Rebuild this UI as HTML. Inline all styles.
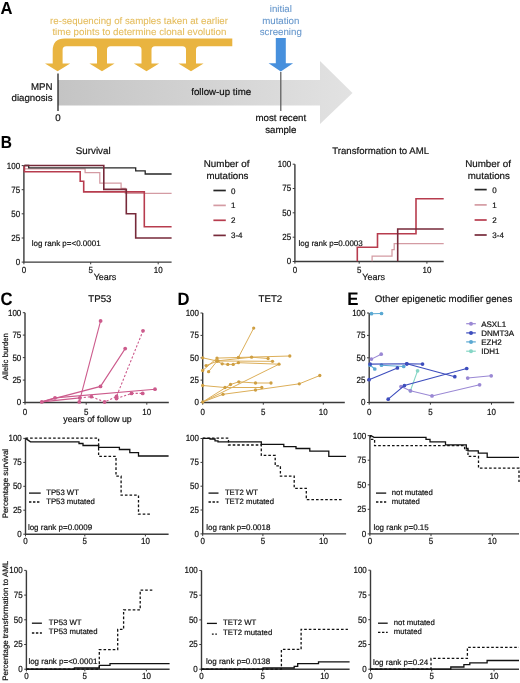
<!DOCTYPE html>
<html><head><meta charset="utf-8">
<style>
html,body{margin:0;padding:0;background:#fff;width:520px;height:683px;overflow:hidden}
svg{display:block;filter:blur(0.3px)}
text{font-family:"Liberation Sans",sans-serif;fill:#111;stroke:#111;stroke-width:0.2px;text-rendering:geometricPrecision}
</style></head><body>
<svg width="520" height="683" viewBox="0 0 520 683">
<text x="0.5" y="13.9" font-size="17.43" style="fill:#000;stroke:#000;stroke-width:0.08px" font-weight="bold" textLength="11.99" lengthAdjust="spacingAndGlyphs">A</text>
<text x="139" y="24.4" font-size="9.70" text-anchor="middle" style="fill:#e4bc5c;stroke:#e4bc5c;stroke-width:0.08px" textLength="177.93" lengthAdjust="spacingAndGlyphs">re-sequencing of samples taken at earlier</text>
<text x="139.4" y="35" font-size="9.75" text-anchor="middle" style="fill:#e4bc5c;stroke:#e4bc5c;stroke-width:0.08px" textLength="173.97" lengthAdjust="spacingAndGlyphs">time points to determine clonal evolution</text>
<path fill="#e9b440" d="M232.3 38.5 L64.7 38.5 Q52.7 38.5 52.7 50.5 L52.7 63.5 L45 63.5 L57.6 71.2 L70.2 63.5 L62.6 63.5 L62.6 50 Q62.6 46.3 66.3 46.3
L93.5 46.3 Q97 46.3 97 49.8 L97 63.5 L89.4 63.5 L102 71.2 L114.6 63.5 L107 63.5 L107 49.8 Q107 46.3 110.5 46.3
L138 46.3 Q141.5 46.3 141.5 49.8 L141.5 63.5 L133.9 63.5 L146.5 71.2 L159.1 63.5 L151.5 63.5 L151.5 49.8 Q151.5 46.3 155 46.3
L182.5 46.3 Q186 46.3 186 49.8 L186 63.5 L178.4 63.5 L191 71.2 L203.6 63.5 L196 63.5 L196 49.8 Q196 46.3 199.5 46.3
L232.3 46.3 Z"/>
<defs><linearGradient id="gg" x1="58" y1="0" x2="352" y2="0" gradientUnits="userSpaceOnUse">
<stop offset="0" stop-color="#c4c4c4"/><stop offset="1" stop-color="#e2e2e2"/></linearGradient></defs>
<path fill="url(#gg)" d="M58 80 L320 80 L320 61 L352.5 93 L320 124 L320 105.5 L58 105.5 Z"/>
<line x1="58" y1="73.5" x2="58" y2="111" stroke="#111" stroke-width="1.2"/>
<line x1="280.8" y1="72" x2="280.8" y2="111" stroke="#555" stroke-width="1.2"/>
<path fill="#4790dd" d="M275.8 38 L285.8 38 L285.8 63.2 L293.1 63.2 L280.8 71.6 L268.6 63.2 L275.8 63.2 Z"/>
<text x="280.8" y="11.5" font-size="9.70" text-anchor="middle" style="fill:#6596cb;stroke:#6596cb;stroke-width:0.08px" textLength="22.11" lengthAdjust="spacingAndGlyphs">initial</text>
<text x="280.8" y="23.6" font-size="9.70" text-anchor="middle" style="fill:#6596cb;stroke:#6596cb;stroke-width:0.08px" textLength="37.20" lengthAdjust="spacingAndGlyphs">mutation</text>
<text x="280.8" y="34.6" font-size="9.70" text-anchor="middle" style="fill:#6596cb;stroke:#6596cb;stroke-width:0.08px" textLength="42.06" lengthAdjust="spacingAndGlyphs">screening</text>
<text x="52.5" y="89.5" font-size="9.70" text-anchor="end" textLength="21.56" lengthAdjust="spacingAndGlyphs">MPN</text>
<text x="52.5" y="100.7" font-size="9.70" text-anchor="end" textLength="40.98" lengthAdjust="spacingAndGlyphs">diagnosis</text>
<text x="58" y="120.8" font-size="9.70" text-anchor="middle" textLength="5.40" lengthAdjust="spacingAndGlyphs">0</text>
<text x="221.2" y="95.4" font-size="9.70" text-anchor="middle" textLength="59.84" lengthAdjust="spacingAndGlyphs">follow-up time</text>
<text x="280.8" y="121.3" font-size="9.70" text-anchor="middle" textLength="50.67" lengthAdjust="spacingAndGlyphs">most recent</text>
<text x="280.8" y="132.6" font-size="9.70" text-anchor="middle" textLength="31.27" lengthAdjust="spacingAndGlyphs">sample</text>
<text x="0.8" y="147.5" font-size="17.36" style="fill:#000;stroke:#000;stroke-width:0.08px" font-weight="bold" textLength="11.19" lengthAdjust="spacingAndGlyphs">B</text>
<text x="93.2" y="154.3" font-size="9.80" text-anchor="middle" textLength="34.86" lengthAdjust="spacingAndGlyphs">Survival</text>
<path d="M23.9 165.6 V262.1 H171.6" fill="none" stroke="#3a3a3a" stroke-width="1.4"/>
<text x="20.2" y="265.0" font-size="8.96" text-anchor="end" textLength="4.45" lengthAdjust="spacingAndGlyphs">0</text>
<text x="20.2" y="240.9" font-size="8.96" text-anchor="end" textLength="8.90" lengthAdjust="spacingAndGlyphs">25</text>
<text x="20.2" y="216.8" font-size="8.96" text-anchor="end" textLength="8.90" lengthAdjust="spacingAndGlyphs">50</text>
<text x="20.2" y="192.6" font-size="8.96" text-anchor="end" textLength="8.90" lengthAdjust="spacingAndGlyphs">75</text>
<text x="20.2" y="168.5" font-size="8.96" text-anchor="end" textLength="13.35" lengthAdjust="spacingAndGlyphs">100</text>
<text x="23.9" y="272.6" font-size="8.80" text-anchor="middle" textLength="4.45" lengthAdjust="spacingAndGlyphs">0</text>
<text x="90.7" y="272.6" font-size="8.80" text-anchor="middle" textLength="4.45" lengthAdjust="spacingAndGlyphs">5</text>
<text x="158.2" y="272.6" font-size="8.80" text-anchor="middle" textLength="8.90" lengthAdjust="spacingAndGlyphs">10</text>
<path d="M21.7 262.1 H23.9 M21.7 238.0 H23.9 M21.7 213.8 H23.9 M21.7 189.7 H23.9 M21.7 165.6 H23.9 M23.9 262.1 V264.3 M90.7 262.1 V264.3 M158.2 262.1 V264.3" fill="none" stroke="#3a3a3a" stroke-width="1"/>
<text x="105.0" y="280.4" font-size="9.00" text-anchor="middle" textLength="22.69" lengthAdjust="spacingAndGlyphs">Years</text>
<text x="31.7" y="246.3" font-size="8.00" textLength="68.95" lengthAdjust="spacingAndGlyphs">log rank p=&lt;0.0001</text>
<g fill="none" stroke-width="1.6">
<path stroke="#d49ba3" stroke-width="1.25" d="M24.4 165.5 V168.9 H85.1 V172.7 H99.8 V183 H121.1 V188.3 H125.3 V193.4 H171.6"/>
<path stroke="#b73c4e" d="M24.4 165.5 V171.8 H80.2 V181.3 H83.7 V191.9 H144.3 V226.8 H171.6"/>
<path stroke="#262626" stroke-width="1.3" d="M24.4 165.5 H28.7 V167.8 H135.7 V170.9 H145.2 V174 H171.6"/>
<path stroke="#772a3a" d="M24.4 165.5 H103.8 V189.4 H126.3 V213.8 H135.7 V238 H171.6"/>
</g>
<text x="226.6" y="167.4" font-size="9.80" text-anchor="middle" textLength="45.75" lengthAdjust="spacingAndGlyphs">Number of</text>
<text x="227.4" y="178.7" font-size="9.70" text-anchor="middle" textLength="42.05" lengthAdjust="spacingAndGlyphs">mutations</text>
<line x1="213.4" y1="190.5" x2="225.8" y2="190.5" stroke="#262626" stroke-width="1.7"/>
<text x="231" y="193.5" font-size="8.00" textLength="4.45" lengthAdjust="spacingAndGlyphs">0</text>
<line x1="213.4" y1="205.4" x2="225.8" y2="205.4" stroke="#d49ba3" stroke-width="1.7"/>
<text x="231" y="208.4" font-size="8.00" textLength="4.45" lengthAdjust="spacingAndGlyphs">1</text>
<line x1="213.4" y1="220.3" x2="225.8" y2="220.3" stroke="#b73c4e" stroke-width="1.7"/>
<text x="231" y="223.3" font-size="8.00" textLength="4.45" lengthAdjust="spacingAndGlyphs">2</text>
<line x1="213.4" y1="235.4" x2="225.8" y2="235.4" stroke="#772a3a" stroke-width="1.7"/>
<text x="231" y="238.4" font-size="8.00" textLength="11.56" lengthAdjust="spacingAndGlyphs">3-4</text>
<text x="488" y="167.4" font-size="9.80" text-anchor="middle" textLength="45.75" lengthAdjust="spacingAndGlyphs">Number of</text>
<text x="488.8" y="178.7" font-size="9.70" text-anchor="middle" textLength="42.05" lengthAdjust="spacingAndGlyphs">mutations</text>
<line x1="474.6" y1="189.6" x2="486.7" y2="189.6" stroke="#262626" stroke-width="1.7"/>
<text x="492.3" y="192.6" font-size="8.00" textLength="4.45" lengthAdjust="spacingAndGlyphs">0</text>
<line x1="474.6" y1="204.9" x2="486.7" y2="204.9" stroke="#d49ba3" stroke-width="1.7"/>
<text x="492.3" y="207.9" font-size="8.00" textLength="4.45" lengthAdjust="spacingAndGlyphs">1</text>
<line x1="474.6" y1="220" x2="486.7" y2="220" stroke="#b73c4e" stroke-width="1.7"/>
<text x="492.3" y="223.0" font-size="8.00" textLength="4.45" lengthAdjust="spacingAndGlyphs">2</text>
<line x1="474.6" y1="235" x2="486.7" y2="235" stroke="#772a3a" stroke-width="1.7"/>
<text x="492.3" y="238.0" font-size="8.00" textLength="11.56" lengthAdjust="spacingAndGlyphs">3-4</text>
<text x="380.7" y="154.3" font-size="9.60" text-anchor="middle" textLength="96.75" lengthAdjust="spacingAndGlyphs">Transformation to AML</text>
<path d="M294.9 164.2 V261.5 H443.7" fill="none" stroke="#3a3a3a" stroke-width="1.4"/>
<text x="291.2" y="264.4" font-size="8.96" text-anchor="end" textLength="4.45" lengthAdjust="spacingAndGlyphs">0</text>
<text x="291.2" y="240.1" font-size="8.96" text-anchor="end" textLength="8.90" lengthAdjust="spacingAndGlyphs">25</text>
<text x="291.2" y="215.8" font-size="8.96" text-anchor="end" textLength="8.90" lengthAdjust="spacingAndGlyphs">50</text>
<text x="291.2" y="191.4" font-size="8.96" text-anchor="end" textLength="8.90" lengthAdjust="spacingAndGlyphs">75</text>
<text x="291.2" y="167.1" font-size="8.96" text-anchor="end" textLength="13.35" lengthAdjust="spacingAndGlyphs">100</text>
<text x="294.9" y="272.6" font-size="8.80" text-anchor="middle" textLength="4.45" lengthAdjust="spacingAndGlyphs">0</text>
<text x="359.2" y="272.6" font-size="8.80" text-anchor="middle" textLength="4.45" lengthAdjust="spacingAndGlyphs">5</text>
<text x="426.9" y="272.6" font-size="8.80" text-anchor="middle" textLength="8.90" lengthAdjust="spacingAndGlyphs">10</text>
<path d="M292.7 261.5 H294.9 M292.7 237.2 H294.9 M292.7 212.8 H294.9 M292.7 188.5 H294.9 M292.7 164.2 H294.9 M294.9 261.5 V263.7 M359.2 261.5 V263.7 M426.9 261.5 V263.7" fill="none" stroke="#3a3a3a" stroke-width="1"/>
<text x="373.6" y="280.2" font-size="9.00" text-anchor="middle" textLength="22.69" lengthAdjust="spacingAndGlyphs">Years</text>
<text x="298.5" y="245.9" font-size="8.00" textLength="64.27" lengthAdjust="spacingAndGlyphs">log rank p=0.0003</text>
<g fill="none" stroke-width="1.6">
<path stroke="#d49ba3" stroke-width="1.25" d="M372.1 261.3 V256 H392 V249.6 H394.2 V243.5 H443.7"/>
<path stroke="#b73c4e" d="M357.3 261.3 V247.3 H377.5 V233.8 H416 V198.7 H443.7"/>
<path stroke="#772a3a" d="M397.7 261.3 V229 H443.7"/>
</g>
<text x="0.4" y="305.2" font-size="17.93" style="fill:#000;stroke:#000;stroke-width:0.08px" font-weight="bold" textLength="11.99" lengthAdjust="spacingAndGlyphs">C</text>
<text x="177.4" y="305.0" font-size="17.93" style="fill:#000;stroke:#000;stroke-width:0.08px" font-weight="bold" textLength="11.99" lengthAdjust="spacingAndGlyphs">D</text>
<text x="347.2" y="304.9" font-size="18.14" style="fill:#000;stroke:#000;stroke-width:0.08px" font-weight="bold" textLength="11.21" lengthAdjust="spacingAndGlyphs">E</text>
<text x="99.9" y="302.3" font-size="9.70" text-anchor="middle" textLength="23.18" lengthAdjust="spacingAndGlyphs">TP53</text>
<text x="270.4" y="302.3" font-size="9.70" text-anchor="middle" textLength="23.71" lengthAdjust="spacingAndGlyphs">TET2</text>
<text x="443.5" y="302.3" font-size="9.70" text-anchor="middle" textLength="137.50" lengthAdjust="spacingAndGlyphs">Other epigenetic modifier genes</text>
<path d="M25.0 312.7 V402.5 H168.8" fill="none" stroke="#3a3a3a" stroke-width="1.4"/>
<text x="21.3" y="405.4" font-size="8.96" text-anchor="end" textLength="4.45" lengthAdjust="spacingAndGlyphs">0</text>
<text x="21.3" y="382.9" font-size="8.96" text-anchor="end" textLength="8.90" lengthAdjust="spacingAndGlyphs">25</text>
<text x="21.3" y="360.5" font-size="8.96" text-anchor="end" textLength="8.90" lengthAdjust="spacingAndGlyphs">50</text>
<text x="21.3" y="338.0" font-size="8.96" text-anchor="end" textLength="8.90" lengthAdjust="spacingAndGlyphs">75</text>
<text x="21.3" y="315.6" font-size="8.96" text-anchor="end" textLength="13.35" lengthAdjust="spacingAndGlyphs">100</text>
<text x="25.0" y="414.8" font-size="8.80" text-anchor="middle" textLength="4.45" lengthAdjust="spacingAndGlyphs">0</text>
<text x="86.2" y="414.8" font-size="8.80" text-anchor="middle" textLength="4.45" lengthAdjust="spacingAndGlyphs">5</text>
<text x="146.8" y="414.8" font-size="8.80" text-anchor="middle" textLength="8.90" lengthAdjust="spacingAndGlyphs">10</text>
<path d="M22.8 402.5 H25.0 M22.8 380.1 H25.0 M22.8 357.6 H25.0 M22.8 335.1 H25.0 M22.8 312.7 H25.0 M25.0 402.5 V404.7 M86.2 402.5 V404.7 M146.8 402.5 V404.7" fill="none" stroke="#3a3a3a" stroke-width="1"/>
<path d="M202.7 313.0 V402.5 H344.8" fill="none" stroke="#3a3a3a" stroke-width="1.4"/>
<text x="199.0" y="405.4" font-size="8.96" text-anchor="end" textLength="4.45" lengthAdjust="spacingAndGlyphs">0</text>
<text x="199.0" y="383.0" font-size="8.96" text-anchor="end" textLength="8.90" lengthAdjust="spacingAndGlyphs">25</text>
<text x="199.0" y="360.6" font-size="8.96" text-anchor="end" textLength="8.90" lengthAdjust="spacingAndGlyphs">50</text>
<text x="199.0" y="338.3" font-size="8.96" text-anchor="end" textLength="8.90" lengthAdjust="spacingAndGlyphs">75</text>
<text x="199.0" y="315.9" font-size="8.96" text-anchor="end" textLength="13.35" lengthAdjust="spacingAndGlyphs">100</text>
<text x="202.7" y="414.8" font-size="8.80" text-anchor="middle" textLength="4.45" lengthAdjust="spacingAndGlyphs">0</text>
<text x="263.3" y="414.8" font-size="8.80" text-anchor="middle" textLength="4.45" lengthAdjust="spacingAndGlyphs">5</text>
<text x="323.3" y="414.8" font-size="8.80" text-anchor="middle" textLength="8.90" lengthAdjust="spacingAndGlyphs">10</text>
<path d="M200.5 402.5 H202.7 M200.5 380.1 H202.7 M200.5 357.8 H202.7 M200.5 335.4 H202.7 M200.5 313.0 H202.7 M202.7 402.5 V404.7 M263.3 402.5 V404.7 M323.3 402.5 V404.7" fill="none" stroke="#3a3a3a" stroke-width="1"/>
<path d="M369.2 313.0 V402.5 H514.2" fill="none" stroke="#3a3a3a" stroke-width="1.4"/>
<text x="365.5" y="405.4" font-size="8.96" text-anchor="end" textLength="4.45" lengthAdjust="spacingAndGlyphs">0</text>
<text x="365.5" y="383.0" font-size="8.96" text-anchor="end" textLength="8.90" lengthAdjust="spacingAndGlyphs">25</text>
<text x="365.5" y="360.6" font-size="8.96" text-anchor="end" textLength="8.90" lengthAdjust="spacingAndGlyphs">50</text>
<text x="365.5" y="338.3" font-size="8.96" text-anchor="end" textLength="8.90" lengthAdjust="spacingAndGlyphs">75</text>
<text x="365.5" y="315.9" font-size="8.96" text-anchor="end" textLength="13.35" lengthAdjust="spacingAndGlyphs">100</text>
<text x="369.2" y="414.8" font-size="8.80" text-anchor="middle" textLength="4.45" lengthAdjust="spacingAndGlyphs">0</text>
<text x="430.4" y="414.8" font-size="8.80" text-anchor="middle" textLength="4.45" lengthAdjust="spacingAndGlyphs">5</text>
<text x="491.5" y="414.8" font-size="8.80" text-anchor="middle" textLength="8.90" lengthAdjust="spacingAndGlyphs">10</text>
<path d="M367.0 402.5 H369.2 M367.0 380.1 H369.2 M367.0 357.8 H369.2 M367.0 335.4 H369.2 M367.0 313.0 H369.2 M369.2 402.5 V404.7 M430.4 402.5 V404.7 M491.5 402.5 V404.7" fill="none" stroke="#3a3a3a" stroke-width="1"/>
<text x="97.5" y="422.2" font-size="8.80" text-anchor="middle" textLength="68.48" lengthAdjust="spacingAndGlyphs">years of follow up</text>
<text transform="translate(7.6 356.5) rotate(-90)" x="0" y="0" font-size="7.80" text-anchor="middle" textLength="46.83" lengthAdjust="spacingAndGlyphs">Allelic burden</text>
<path d="M41.8 401.9 L100.5 386.4 L125.2 348.6" fill="none" stroke="#cc5b8c" stroke-width="1.1"/>
<path d="M79.3 401.9 L100.6 320.9" fill="none" stroke="#cc5b8c" stroke-width="1.1"/>
<path d="M41.8 401.9 L55 397.9 L155 389.2" fill="none" stroke="#cc5b8c" stroke-width="1.1"/>
<path d="M41.8 401.9 L79.8 397.9" fill="none" stroke="#cc5b8c" stroke-width="1.1"/>
<path d="M79.8 397.9 L91.4 396.7 L104.6 402 L116.5 396.5 L143 330.8" fill="none" stroke="#cc5b8c" stroke-width="1.1" stroke-dasharray="2.2 1.8"/>
<path d="M116.5 398.6 L131.5 393.4 L142.7 393.4" fill="none" stroke="#cc5b8c" stroke-width="1.1" stroke-dasharray="2.2 1.8"/>
<circle cx="41.8" cy="401.9" r="1.9" fill="#cc5b8c"/><circle cx="55" cy="397.9" r="1.9" fill="#cc5b8c"/><circle cx="79.8" cy="397.9" r="1.9" fill="#cc5b8c"/><circle cx="79.3" cy="401.9" r="1.9" fill="#cc5b8c"/><circle cx="91.4" cy="396.7" r="1.9" fill="#cc5b8c"/><circle cx="100.5" cy="386.4" r="1.9" fill="#cc5b8c"/><circle cx="100.6" cy="320.9" r="1.9" fill="#cc5b8c"/><circle cx="104.6" cy="402" r="1.9" fill="#cc5b8c"/><circle cx="125.2" cy="348.6" r="1.9" fill="#cc5b8c"/><circle cx="116.5" cy="396.5" r="1.9" fill="#cc5b8c"/><circle cx="116.5" cy="398.6" r="1.9" fill="#cc5b8c"/><circle cx="131.5" cy="393.4" r="1.9" fill="#cc5b8c"/><circle cx="142.7" cy="393.4" r="1.9" fill="#cc5b8c"/><circle cx="143" cy="330.8" r="1.9" fill="#cc5b8c"/><circle cx="155" cy="389.2" r="1.9" fill="#cc5b8c"/>
<path d="M202.7 357.8 L217 361 L272.5 361.3" fill="none" stroke="#dcae58" stroke-width="1.0"/>
<path d="M202.7 370.5 L217 358.1 L289.8 356" fill="none" stroke="#dcae58" stroke-width="1.0"/>
<path d="M206.1 365.6 L218 360.8 L251.6 357.2 L268.1 358.5" fill="none" stroke="#dcae58" stroke-width="1.0"/>
<path d="M208.6 371.7 L217 361.2 L222.2 363.8 L227.8 364.4 L233.2 364.4 L238.4 362.7 L279 364.2" fill="none" stroke="#dcae58" stroke-width="1.0"/>
<path d="M238.4 357.5 L253.7 328.1" fill="none" stroke="#dcae58" stroke-width="1.0"/>
<path d="M202.7 402 L279 364.2" fill="none" stroke="#dcae58" stroke-width="1.0"/>
<path d="M202.7 402 L230.5 384.5 L238.8 381.8 L255.5 383 L271 383" fill="none" stroke="#dcae58" stroke-width="1.0"/>
<path d="M202.7 385.5 L225 387.5 L261.8 387.5" fill="none" stroke="#dcae58" stroke-width="1.0"/>
<path d="M202.7 402 L223 394.3 L255.5 390 L299.3 383.8 L319.8 375.5" fill="none" stroke="#dcae58" stroke-width="1.0"/>
<circle cx="202.7" cy="357.8" r="1.65" fill="#cf9f42"/><circle cx="202.7" cy="370.5" r="1.65" fill="#cf9f42"/><circle cx="202.7" cy="385.5" r="1.65" fill="#cf9f42"/><circle cx="202.7" cy="402" r="1.65" fill="#cf9f42"/><circle cx="206.1" cy="365.6" r="1.65" fill="#cf9f42"/><circle cx="208.6" cy="371.7" r="1.65" fill="#cf9f42"/><circle cx="217" cy="358.1" r="1.65" fill="#cf9f42"/><circle cx="217" cy="361" r="1.65" fill="#cf9f42"/><circle cx="217" cy="361.2" r="1.65" fill="#cf9f42"/><circle cx="218" cy="360.8" r="1.65" fill="#cf9f42"/><circle cx="222.2" cy="363.8" r="1.65" fill="#cf9f42"/><circle cx="223" cy="394.3" r="1.65" fill="#cf9f42"/><circle cx="225" cy="387.5" r="1.65" fill="#cf9f42"/><circle cx="227.8" cy="364.4" r="1.65" fill="#cf9f42"/><circle cx="230.5" cy="384.5" r="1.65" fill="#cf9f42"/><circle cx="233.2" cy="364.4" r="1.65" fill="#cf9f42"/><circle cx="238.4" cy="357.5" r="1.65" fill="#cf9f42"/><circle cx="238.4" cy="362.7" r="1.65" fill="#cf9f42"/><circle cx="238.8" cy="381.8" r="1.65" fill="#cf9f42"/><circle cx="251.6" cy="357.2" r="1.65" fill="#cf9f42"/><circle cx="253.7" cy="328.1" r="1.65" fill="#cf9f42"/><circle cx="255.5" cy="383" r="1.65" fill="#cf9f42"/><circle cx="255.5" cy="390" r="1.65" fill="#cf9f42"/><circle cx="261.8" cy="387.5" r="1.65" fill="#cf9f42"/><circle cx="268.1" cy="358.5" r="1.65" fill="#cf9f42"/><circle cx="271" cy="383" r="1.65" fill="#cf9f42"/><circle cx="272.5" cy="361.3" r="1.65" fill="#cf9f42"/><circle cx="279" cy="364.2" r="1.65" fill="#cf9f42"/><circle cx="289.8" cy="356" r="1.65" fill="#cf9f42"/><circle cx="299.3" cy="383.8" r="1.65" fill="#cf9f42"/><circle cx="319.8" cy="375.5" r="1.65" fill="#cf9f42"/>
<path d="M371.5 313.7 L381.5 313.5" fill="none" stroke="#5aa8d2" stroke-width="1.05"/>
<circle cx="371.5" cy="313.7" r="1.85" fill="#5aa8d2"/><circle cx="381.5" cy="313.5" r="1.85" fill="#5aa8d2"/>
<path d="M371.4 359.1 L381.2 354.2" fill="none" stroke="#9a88d4" stroke-width="1.05"/>
<circle cx="371.4" cy="359.1" r="1.85" fill="#9a88d4"/><circle cx="381.2" cy="354.2" r="1.85" fill="#9a88d4"/>
<path d="M370.1 365.2 L374.8 369" fill="none" stroke="#5aa8d2" stroke-width="1.05"/>
<circle cx="370.1" cy="365.2" r="1.85" fill="#5aa8d2"/><circle cx="374.8" cy="369" r="1.85" fill="#5aa8d2"/>
<path d="M381.5 365.2 L403.7 366.5" fill="none" stroke="#5aa8d2" stroke-width="1.05"/>
<circle cx="381.5" cy="365.2" r="1.85" fill="#5aa8d2"/><circle cx="403.7" cy="366.5" r="1.85" fill="#5aa8d2"/>
<path d="M417.6 370.8 L410.4 390.8" fill="none" stroke="#86d6c6" stroke-width="1.05"/>
<circle cx="417.6" cy="370.8" r="1.85" fill="#86d6c6"/><circle cx="410.4" cy="390.8" r="1.85" fill="#86d6c6"/>
<path d="M401 386.5 L410.4 390.8 L432 395.9 L479.6 384.8" fill="none" stroke="#9a88d4" stroke-width="1.05"/>
<circle cx="401" cy="386.5" r="1.85" fill="#9a88d4"/><circle cx="410.4" cy="390.8" r="1.85" fill="#9a88d4"/><circle cx="432" cy="395.9" r="1.85" fill="#9a88d4"/><circle cx="479.6" cy="384.8" r="1.85" fill="#9a88d4"/>
<path d="M467.7 378.1 L491.2 375.8" fill="none" stroke="#9a88d4" stroke-width="1.05"/>
<circle cx="467.7" cy="378.1" r="1.85" fill="#9a88d4"/><circle cx="491.2" cy="375.8" r="1.85" fill="#9a88d4"/>
<path d="M370.1 364.1 L406.8 363.8 L422.5 364.1" fill="none" stroke="#3d4dbd" stroke-width="1.05"/>
<circle cx="370.1" cy="364.1" r="1.85" fill="#3d4dbd"/><circle cx="406.8" cy="363.8" r="1.85" fill="#3d4dbd"/><circle cx="422.5" cy="364.1" r="1.85" fill="#3d4dbd"/>
<path d="M406.8 363.8 L454.8 376.7" fill="none" stroke="#3d4dbd" stroke-width="1.05"/>
<circle cx="406.8" cy="363.8" r="1.85" fill="#3d4dbd"/><circle cx="454.8" cy="376.7" r="1.85" fill="#3d4dbd"/>
<path d="M369.1 379.7 L397.4 367.9" fill="none" stroke="#3d4dbd" stroke-width="1.05"/>
<circle cx="369.1" cy="379.7" r="1.85" fill="#3d4dbd"/><circle cx="397.4" cy="367.9" r="1.85" fill="#3d4dbd"/>
<path d="M388.2 399.2 L404.4 385.6 L466.7 368.5" fill="none" stroke="#3d4dbd" stroke-width="1.05"/>
<circle cx="388.2" cy="399.2" r="1.85" fill="#3d4dbd"/><circle cx="404.4" cy="385.6" r="1.85" fill="#3d4dbd"/><circle cx="466.7" cy="368.5" r="1.85" fill="#3d4dbd"/>
<line x1="466.2" y1="323.7" x2="475.8" y2="323.7" stroke="#9a88d4" stroke-width="1.2"/>
<circle cx="471" cy="323.7" r="2.0" fill="#9a88d4"/>
<text x="481.2" y="326.7" font-size="8.00" textLength="24.91" lengthAdjust="spacingAndGlyphs">ASXL1</text>
<line x1="466.2" y1="332.9" x2="475.8" y2="332.9" stroke="#3d4dbd" stroke-width="1.2"/>
<circle cx="471" cy="332.9" r="2.0" fill="#3d4dbd"/>
<text x="481.2" y="335.9" font-size="8.00" textLength="32.89" lengthAdjust="spacingAndGlyphs">DNMT3A</text>
<line x1="466.2" y1="341.9" x2="475.8" y2="341.9" stroke="#5aa8d2" stroke-width="1.2"/>
<circle cx="471" cy="341.9" r="2.0" fill="#5aa8d2"/>
<text x="481.2" y="344.9" font-size="8.00" textLength="20.45" lengthAdjust="spacingAndGlyphs">EZH2</text>
<line x1="466.2" y1="351.2" x2="475.8" y2="351.2" stroke="#86d6c6" stroke-width="1.2"/>
<circle cx="471" cy="351.2" r="2.0" fill="#86d6c6"/>
<text x="481.2" y="354.2" font-size="8.00" textLength="18.23" lengthAdjust="spacingAndGlyphs">IDH1</text>
<path d="M25.5 438.4 V534.2 H168.6" fill="none" stroke="#3a3a3a" stroke-width="1.4"/>
<text x="21.8" y="537.1" font-size="8.96" text-anchor="end" textLength="4.45" lengthAdjust="spacingAndGlyphs">0</text>
<text x="21.8" y="513.1" font-size="8.96" text-anchor="end" textLength="8.90" lengthAdjust="spacingAndGlyphs">25</text>
<text x="21.8" y="489.2" font-size="8.96" text-anchor="end" textLength="8.90" lengthAdjust="spacingAndGlyphs">50</text>
<text x="21.8" y="465.2" font-size="8.96" text-anchor="end" textLength="8.90" lengthAdjust="spacingAndGlyphs">75</text>
<text x="21.8" y="441.3" font-size="8.96" text-anchor="end" textLength="13.35" lengthAdjust="spacingAndGlyphs">100</text>
<text x="25.5" y="544.2" font-size="8.80" text-anchor="middle" textLength="4.45" lengthAdjust="spacingAndGlyphs">0</text>
<text x="84.8" y="544.2" font-size="8.80" text-anchor="middle" textLength="4.45" lengthAdjust="spacingAndGlyphs">5</text>
<text x="145.4" y="544.2" font-size="8.80" text-anchor="middle" textLength="8.90" lengthAdjust="spacingAndGlyphs">10</text>
<path d="M23.3 534.2 H25.5 M23.3 510.2 H25.5 M23.3 486.3 H25.5 M23.3 462.4 H25.5 M23.3 438.4 H25.5 M25.5 534.2 V536.4000000000001 M84.8 534.2 V536.4000000000001 M145.4 534.2 V536.4000000000001" fill="none" stroke="#3a3a3a" stroke-width="1"/>
<path d="M25.5 438.4 L30.5 441.8 H79 V443.5 H83 V445.5 H98.6 V447.4 H119.4 V449.5 H129.8 V452.6 H138.5 V456 H168.6" fill="none" stroke="#111" stroke-width="1.3"/>
<path d="M25.5 438.2 H98.6 V456.4 H116 V476.2 H121.1 V495.2 H138.5 V514.2 H151.3" fill="none" stroke="#111" stroke-width="1.3" stroke-dasharray="2.6 2"/>
<line x1="29" y1="493.1" x2="40.7" y2="493.1" stroke="#111" stroke-width="1.3"/>
<line x1="29" y1="502" x2="40.7" y2="502" stroke="#111" stroke-width="1.3" stroke-dasharray="2.4 1.6"/>
<text x="46.2" y="494.8" font-size="7.75" textLength="32.73" lengthAdjust="spacingAndGlyphs">TP53 WT</text>
<text x="46.2" y="503.6" font-size="7.75" textLength="48.68" lengthAdjust="spacingAndGlyphs">TP53 mutated</text>
<text x="27.9" y="529.6" font-size="8.00" textLength="64.27" lengthAdjust="spacingAndGlyphs">log rank p=0.0009</text>
<text transform="translate(8.1 483.6) rotate(-90)" x="0" y="0" font-size="7.90" text-anchor="middle" textLength="69.38" lengthAdjust="spacingAndGlyphs">Percentage survival</text>
<path d="M202.7 438.5 V533.9 H346.1" fill="none" stroke="#3a3a3a" stroke-width="1.4"/>
<text x="199.0" y="536.8" font-size="8.96" text-anchor="end" textLength="4.45" lengthAdjust="spacingAndGlyphs">0</text>
<text x="199.0" y="512.9" font-size="8.96" text-anchor="end" textLength="8.90" lengthAdjust="spacingAndGlyphs">25</text>
<text x="199.0" y="489.1" font-size="8.96" text-anchor="end" textLength="8.90" lengthAdjust="spacingAndGlyphs">50</text>
<text x="199.0" y="465.2" font-size="8.96" text-anchor="end" textLength="8.90" lengthAdjust="spacingAndGlyphs">75</text>
<text x="199.0" y="441.4" font-size="8.96" text-anchor="end" textLength="13.35" lengthAdjust="spacingAndGlyphs">100</text>
<text x="202.7" y="544.2" font-size="8.80" text-anchor="middle" textLength="4.45" lengthAdjust="spacingAndGlyphs">0</text>
<text x="262.9" y="544.2" font-size="8.80" text-anchor="middle" textLength="4.45" lengthAdjust="spacingAndGlyphs">5</text>
<text x="323.5" y="544.2" font-size="8.80" text-anchor="middle" textLength="8.90" lengthAdjust="spacingAndGlyphs">10</text>
<path d="M200.5 533.9 H202.7 M200.5 510.0 H202.7 M200.5 486.2 H202.7 M200.5 462.4 H202.7 M200.5 438.5 H202.7 M202.7 533.9 V536.1 M262.9 533.9 V536.1 M323.5 533.9 V536.1" fill="none" stroke="#3a3a3a" stroke-width="1"/>
<path d="M202.7 438.4 H210 V439 H215 V440.8 H218 V441.9 H261.3 V444.3 H283.8 V446.7 H296 V448.5 H309.8 V451.2 H328.8 V456.4 H346.1" fill="none" stroke="#111" stroke-width="1.3"/>
<path d="M202.7 438.2 H228.5 V445 H261.3 V455.4 H275.2 V465.8 H280.4 V476.2 H294.2 V488.3 H306.3 V499.7 H342.7" fill="none" stroke="#111" stroke-width="1.3" stroke-dasharray="2.6 2"/>
<line x1="208.5" y1="493.1" x2="218.5" y2="493.1" stroke="#111" stroke-width="1.3"/>
<line x1="208.5" y1="502" x2="218.5" y2="502" stroke="#111" stroke-width="1.3" stroke-dasharray="2.4 1.6"/>
<text x="224.9" y="494.8" font-size="7.75" textLength="33.15" lengthAdjust="spacingAndGlyphs">TET2 WT</text>
<text x="224.9" y="503.6" font-size="7.75" textLength="49.10" lengthAdjust="spacingAndGlyphs">TET2 mutated</text>
<text x="206.2" y="529.6" font-size="8.00" textLength="64.27" lengthAdjust="spacingAndGlyphs">log rank p=0.0018</text>
<path d="M369.9 435.6 V533.9 H519" fill="none" stroke="#3a3a3a" stroke-width="1.4"/>
<text x="366.2" y="536.8" font-size="8.96" text-anchor="end" textLength="4.45" lengthAdjust="spacingAndGlyphs">0</text>
<text x="366.2" y="512.2" font-size="8.96" text-anchor="end" textLength="8.90" lengthAdjust="spacingAndGlyphs">25</text>
<text x="366.2" y="487.6" font-size="8.96" text-anchor="end" textLength="8.90" lengthAdjust="spacingAndGlyphs">50</text>
<text x="366.2" y="463.1" font-size="8.96" text-anchor="end" textLength="8.90" lengthAdjust="spacingAndGlyphs">75</text>
<text x="366.2" y="438.5" font-size="8.96" text-anchor="end" textLength="13.35" lengthAdjust="spacingAndGlyphs">100</text>
<text x="369.9" y="544.2" font-size="8.80" text-anchor="middle" textLength="4.45" lengthAdjust="spacingAndGlyphs">0</text>
<text x="431" y="544.2" font-size="8.80" text-anchor="middle" textLength="4.45" lengthAdjust="spacingAndGlyphs">5</text>
<text x="492.3" y="544.2" font-size="8.80" text-anchor="middle" textLength="8.90" lengthAdjust="spacingAndGlyphs">10</text>
<path d="M367.7 533.9 H369.9 M367.7 509.3 H369.9 M367.7 484.8 H369.9 M367.7 460.2 H369.9 M367.7 435.6 H369.9 M369.9 533.9 V536.1 M431.0 533.9 V536.1 M492.3 533.9 V536.1" fill="none" stroke="#3a3a3a" stroke-width="1"/>
<path d="M369.9 435.6 H371 L374 437.3 H426 V439.4 H430 V441.8 H445.5 V444.9 H466.3 V448.5 H468 V450.9 H478.3 V453.2 H487.2 V457.3 H519" fill="none" stroke="#111" stroke-width="1.3"/>
<path d="M369.9 435.6 H370.6 V439.3 H374.6 V445.7 H464.6 V450.2 H468 V456.4 H478.5 V468.2 H519 V482" fill="none" stroke="#111" stroke-width="1.3" stroke-dasharray="2.6 2"/>
<line x1="376" y1="493.1" x2="386.2" y2="493.1" stroke="#111" stroke-width="1.3"/>
<line x1="376" y1="502" x2="386.2" y2="502" stroke="#111" stroke-width="1.3" stroke-dasharray="2.4 1.6"/>
<text x="391.8" y="494.8" font-size="7.75" textLength="40.93" lengthAdjust="spacingAndGlyphs">not mutated</text>
<text x="391.8" y="503.6" font-size="7.75" textLength="28.00" lengthAdjust="spacingAndGlyphs">mutated</text>
<text x="373.4" y="529.6" font-size="8.00" textLength="55.38" lengthAdjust="spacingAndGlyphs">log rank p=0.15</text>
<path d="M26.4 570.4 V669.2 H169.6" fill="none" stroke="#3a3a3a" stroke-width="1.4"/>
<text x="22.7" y="672.1" font-size="8.96" text-anchor="end" textLength="4.45" lengthAdjust="spacingAndGlyphs">0</text>
<text x="22.7" y="647.4" font-size="8.96" text-anchor="end" textLength="8.90" lengthAdjust="spacingAndGlyphs">25</text>
<text x="22.7" y="622.7" font-size="8.96" text-anchor="end" textLength="8.90" lengthAdjust="spacingAndGlyphs">50</text>
<text x="22.7" y="598.0" font-size="8.96" text-anchor="end" textLength="8.90" lengthAdjust="spacingAndGlyphs">75</text>
<text x="22.7" y="573.3" font-size="8.96" text-anchor="end" textLength="13.35" lengthAdjust="spacingAndGlyphs">100</text>
<text x="26.4" y="679.4" font-size="8.80" text-anchor="middle" textLength="4.45" lengthAdjust="spacingAndGlyphs">0</text>
<text x="84.8" y="679.4" font-size="8.80" text-anchor="middle" textLength="4.45" lengthAdjust="spacingAndGlyphs">5</text>
<text x="146.4" y="679.4" font-size="8.80" text-anchor="middle" textLength="8.90" lengthAdjust="spacingAndGlyphs">10</text>
<path d="M24.2 669.2 H26.4 M24.2 644.5 H26.4 M24.2 619.8 H26.4 M24.2 595.1 H26.4 M24.2 570.4 H26.4 M26.4 669.2 V671.4000000000001 M84.8 669.2 V671.4000000000001 M146.4 669.2 V671.4000000000001" fill="none" stroke="#3a3a3a" stroke-width="1"/>
<path d="M26.4 669.2 H74.4 V668 H99.3 V665.3 H110 V663.6 H169.6" fill="none" stroke="#111" stroke-width="1.3"/>
<path d="M26.4 669.2 H99.3 V649.7 H117.7 V629.3 H123.6 V609.9 H140.2 V590.2 H152.3" fill="none" stroke="#111" stroke-width="1.3" stroke-dasharray="2.6 2"/>
<line x1="31.9" y1="623.2" x2="41.9" y2="623.2" stroke="#111" stroke-width="1.3"/>
<line x1="31.9" y1="633" x2="41.9" y2="633" stroke="#111" stroke-width="1.3" stroke-dasharray="2.4 1.6"/>
<text x="48.8" y="624.9" font-size="7.75" textLength="32.73" lengthAdjust="spacingAndGlyphs">TP53 WT</text>
<text x="48.8" y="634.3" font-size="7.75" textLength="48.68" lengthAdjust="spacingAndGlyphs">TP53 mutated</text>
<text x="28.4" y="663.9" font-size="8.00" textLength="68.95" lengthAdjust="spacingAndGlyphs">log rank p=&lt;0.0001</text>
<text transform="translate(7.6 620.8) rotate(-90)" x="0" y="0" font-size="7.90" text-anchor="middle" textLength="119.88" lengthAdjust="spacingAndGlyphs">Percentage transformation to AML</text>
<path d="M201.5 570.5 V669.2 H349.6" fill="none" stroke="#3a3a3a" stroke-width="1.4"/>
<text x="197.8" y="672.1" font-size="8.96" text-anchor="end" textLength="4.45" lengthAdjust="spacingAndGlyphs">0</text>
<text x="197.8" y="647.4" font-size="8.96" text-anchor="end" textLength="8.90" lengthAdjust="spacingAndGlyphs">25</text>
<text x="197.8" y="622.8" font-size="8.96" text-anchor="end" textLength="8.90" lengthAdjust="spacingAndGlyphs">50</text>
<text x="197.8" y="598.1" font-size="8.96" text-anchor="end" textLength="8.90" lengthAdjust="spacingAndGlyphs">75</text>
<text x="197.8" y="573.4" font-size="8.96" text-anchor="end" textLength="13.35" lengthAdjust="spacingAndGlyphs">100</text>
<text x="201.5" y="679.4" font-size="8.80" text-anchor="middle" textLength="4.45" lengthAdjust="spacingAndGlyphs">0</text>
<text x="262.7" y="679.4" font-size="8.80" text-anchor="middle" textLength="4.45" lengthAdjust="spacingAndGlyphs">5</text>
<text x="324.6" y="679.4" font-size="8.80" text-anchor="middle" textLength="8.90" lengthAdjust="spacingAndGlyphs">10</text>
<path d="M199.3 669.2 H201.5 M199.3 644.5 H201.5 M199.3 619.9 H201.5 M199.3 595.2 H201.5 M199.3 570.5 H201.5 M201.5 669.2 V671.4000000000001 M262.7 669.2 V671.4000000000001 M324.6 669.2 V671.4000000000001" fill="none" stroke="#3a3a3a" stroke-width="1"/>
<path d="M201.5 669.2 H263 V668 H294.2 V666.3 H297.7 V663.6 H318.5 V661.8 H349.6" fill="none" stroke="#111" stroke-width="1.3"/>
<path d="M201.5 669.2 H281.4 V649.4 H301.1 V629.3 H347.9" fill="none" stroke="#111" stroke-width="1.3" stroke-dasharray="2.6 2"/>
<line x1="206.9" y1="623.4" x2="216.9" y2="623.4" stroke="#111" stroke-width="1.3"/>
<path d="M211.9 634.2 h1.8 M215.3 634.2 h1.6" stroke="#111" stroke-width="1.3"/>
<text x="223.1" y="625.1" font-size="7.75" textLength="33.15" lengthAdjust="spacingAndGlyphs">TET2 WT</text>
<text x="223.1" y="634.5" font-size="7.75" textLength="49.10" lengthAdjust="spacingAndGlyphs">TET2 mutated</text>
<text x="206" y="663.9" font-size="8.00" textLength="64.27" lengthAdjust="spacingAndGlyphs">log rank p=0.0138</text>
<path d="M370.5 570.2 V669.2 H519" fill="none" stroke="#3a3a3a" stroke-width="1.4"/>
<text x="366.8" y="672.1" font-size="8.96" text-anchor="end" textLength="4.45" lengthAdjust="spacingAndGlyphs">0</text>
<text x="366.8" y="647.4" font-size="8.96" text-anchor="end" textLength="8.90" lengthAdjust="spacingAndGlyphs">25</text>
<text x="366.8" y="622.6" font-size="8.96" text-anchor="end" textLength="8.90" lengthAdjust="spacingAndGlyphs">50</text>
<text x="366.8" y="597.9" font-size="8.96" text-anchor="end" textLength="8.90" lengthAdjust="spacingAndGlyphs">75</text>
<text x="366.8" y="573.1" font-size="8.96" text-anchor="end" textLength="13.35" lengthAdjust="spacingAndGlyphs">100</text>
<text x="370.5" y="679.4" font-size="8.80" text-anchor="middle" textLength="4.45" lengthAdjust="spacingAndGlyphs">0</text>
<text x="431.7" y="679.4" font-size="8.80" text-anchor="middle" textLength="4.45" lengthAdjust="spacingAndGlyphs">5</text>
<text x="494" y="679.4" font-size="8.80" text-anchor="middle" textLength="8.90" lengthAdjust="spacingAndGlyphs">10</text>
<path d="M368.3 669.2 H370.5 M368.3 644.5 H370.5 M368.3 619.7 H370.5 M368.3 595.0 H370.5 M368.3 570.2 H370.5 M370.5 669.2 V671.4000000000001 M431.7 669.2 V671.4000000000001 M494.0 669.2 V671.4000000000001" fill="none" stroke="#3a3a3a" stroke-width="1"/>
<path d="M370.5 669.2 H450.8 V667 H463.9 V664.6 H469.8 V662.9 H487.1 V660.5 H519" fill="none" stroke="#111" stroke-width="1.3"/>
<path d="M370.5 669.2 H431 V658.4 H467.4 V647.3 H519" fill="none" stroke="#111" stroke-width="1.3" stroke-dasharray="2.6 2"/>
<line x1="378" y1="623.2" x2="387.7" y2="623.2" stroke="#111" stroke-width="1.3"/>
<line x1="378" y1="632.4" x2="387.7" y2="632.4" stroke="#111" stroke-width="1.3" stroke-dasharray="2.4 1.6"/>
<text x="393.8" y="624.7" font-size="7.75" textLength="40.93" lengthAdjust="spacingAndGlyphs">not mutated</text>
<text x="393.8" y="634" font-size="7.75" textLength="28.00" lengthAdjust="spacingAndGlyphs">mutated</text>
<text x="372.9" y="664.6" font-size="8.00" textLength="55.38" lengthAdjust="spacingAndGlyphs">log rank p=0.24</text>
</svg>
</body></html>
